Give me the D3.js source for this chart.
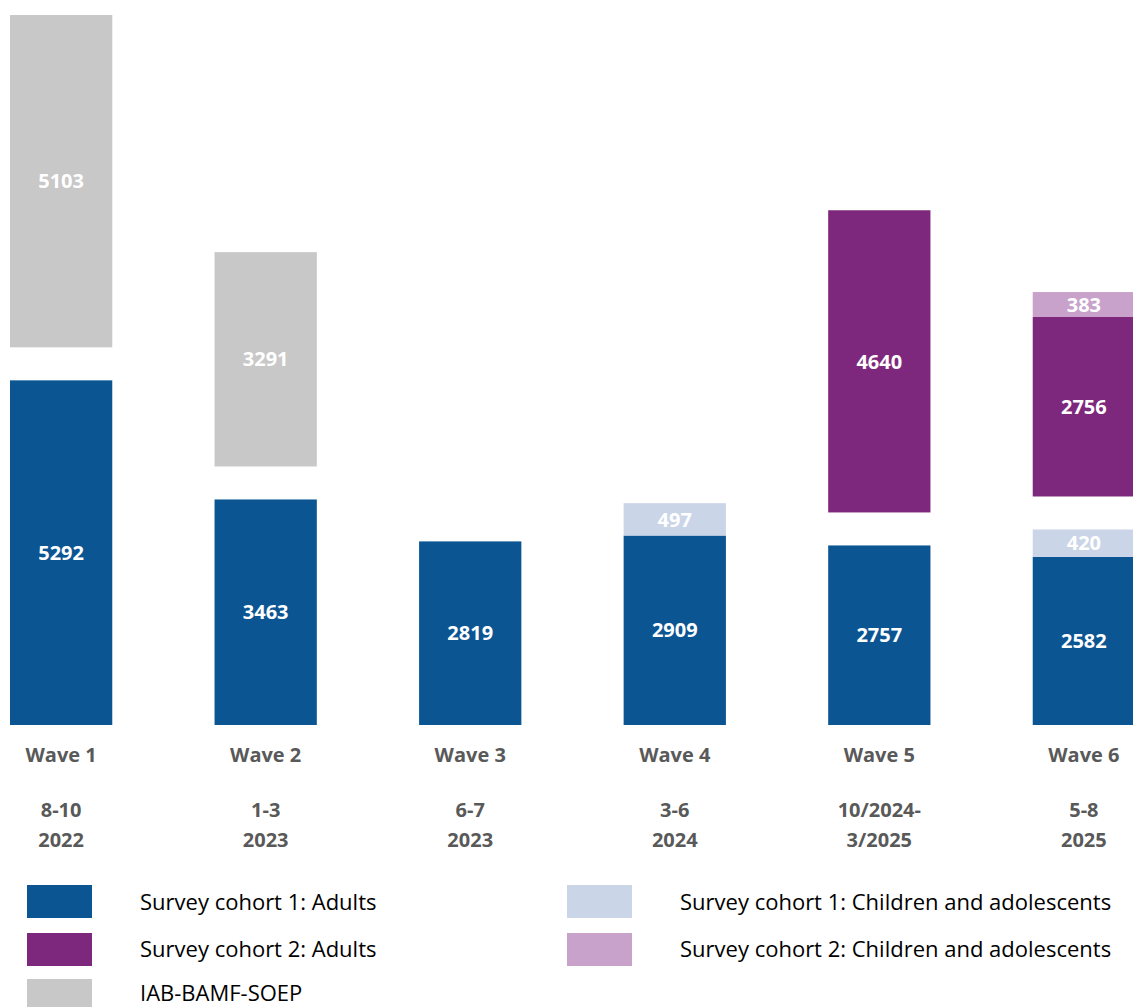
<!DOCTYPE html>
<html><head><meta charset="utf-8">
<script src="https://cdn.jsdelivr.net/npm/d3@7/dist/d3.min.js"></script>
<style>body{margin:0;background:#fff}svg{display:block}</style>
</head><body><svg id="c" width="1133" height="1007"></svg>
<script>
const waves = ["Wave 1","Wave 2","Wave 3","Wave 4","Wave 5","Wave 6"];
const periods = [["8-10","2022"],["1-3","2023"],["6-7","2023"],["3-6","2024"],["10/2024-","3/2025"],["5-8","2025"]];
// lower group (survey cohort 1)
const c1Adults   = [5292,3463,2819,2909,2757,2582];
const c1Children = [0,0,0,497,0,420];
// upper group
const iabBamfSoep = [5103,3291,0,0,0,0];
const c2Adults    = [0,0,0,0,4640,2756];
const c2Children  = [0,0,0,0,0,383];
const seriesNames = ["Survey cohort 1: Adults","Survey cohort 2: Adults","IAB-BAMF-SOEP","Survey cohort 1: Children and adolescents","Survey cohort 2: Children and adolescents"];
const colors = {
  "Survey cohort 1: Adults":"#0b5592",
  "Survey cohort 1: Children and adolescents":"#cad5e8",
  "IAB-BAMF-SOEP":"#c8c8c8",
  "Survey cohort 2: Adults":"#7e287d",
  "Survey cohort 2: Children and adolescents":"#c8a2cb"
};

const svg = d3.select("#c");
const baseY = 725, gapPx = 33;
const x = d3.scaleBand().domain(waves).range([10,1135]).paddingInner(0.5).paddingOuter(0);
const maxTotal = d3.max(waves, (w,i)=>c1Adults[i]+c1Children[i]+iabBamfSoep[i]+c2Adults[i]+c2Children[i]);
const h = d3.scaleLinear().domain([0,maxTotal]).range([0,710-gapPx]);

const lower = [["Survey cohort 1: Adults",c1Adults],["Survey cohort 1: Children and adolescents",c1Children]];
const upper = [["IAB-BAMF-SOEP",iabBamfSoep],["Survey cohort 2: Adults",c2Adults],["Survey cohort 2: Children and adolescents",c2Children]];

const segs = [];
waves.forEach((w,i)=>{
  let cum = 0;
  lower.forEach(([name,arr])=>{
    const v = arr[i]; if(!v) return;
    segs.push({w,name,v,y0:baseY-h(cum),y1:baseY-h(cum+v)}); cum += v;
  });
  const off = cum>0 ? gapPx : 0;
  upper.forEach(([name,arr])=>{
    const v = arr[i]; if(!v) return;
    segs.push({w,name,v,y0:baseY-h(cum)-off,y1:baseY-h(cum+v)-off}); cum += v;
  });
});

const font = "'Open Sans', sans-serif";
svg.selectAll("rect.bar").data(segs).join("rect").attr("class","bar")
  .attr("x",d=>x(d.w)).attr("width",x.bandwidth())
  .attr("y",d=>d.y1).attr("height",d=>d.y0-d.y1)
  .attr("fill",d=>colors[d.name]);
svg.selectAll("text.val").data(segs).join("text").attr("class","val")
  .attr("x",d=>x(d.w)+x.bandwidth()/2).attr("y",d=>(d.y0+d.y1)/2)
  .attr("dy","0.36em").attr("text-anchor","middle")
  .attr("fill","#fff").attr("font-family",font).attr("font-weight","bold").attr("font-size",20)
  .text(d=>d.v);

const lab = svg.append("g").attr("font-family",font).attr("font-weight","bold").attr("font-size",20)
  .attr("fill","#595959").attr("text-anchor","middle");
waves.forEach((w,i)=>{
  const cx = x(w)+x.bandwidth()/2;
  lab.append("text").attr("x",cx).attr("y",762).text(w);
  lab.append("text").attr("x",cx).attr("y",817).text(periods[i][0]);
  lab.append("text").attr("x",cx).attr("y",847).text(periods[i][1]);
});

const legendPos = [[27,885,140,902],[27,933,140,949],[27,979,140,993],[567,885,680,902],[567,933,680,949]];
const lg = svg.append("g");
seriesNames.forEach((n,i)=>{
  const [sx,sy,tx,ty] = legendPos[i];
  lg.append("rect").attr("x",sx).attr("y",sy).attr("width",65).attr("height",33).attr("fill",colors[n]);
  lg.append("text").attr("x",tx).attr("y",ty).attr("dy","0.36em")
    .attr("font-family",font).attr("font-size",22).attr("fill","#000").text(n);
});
</script></body></html>
